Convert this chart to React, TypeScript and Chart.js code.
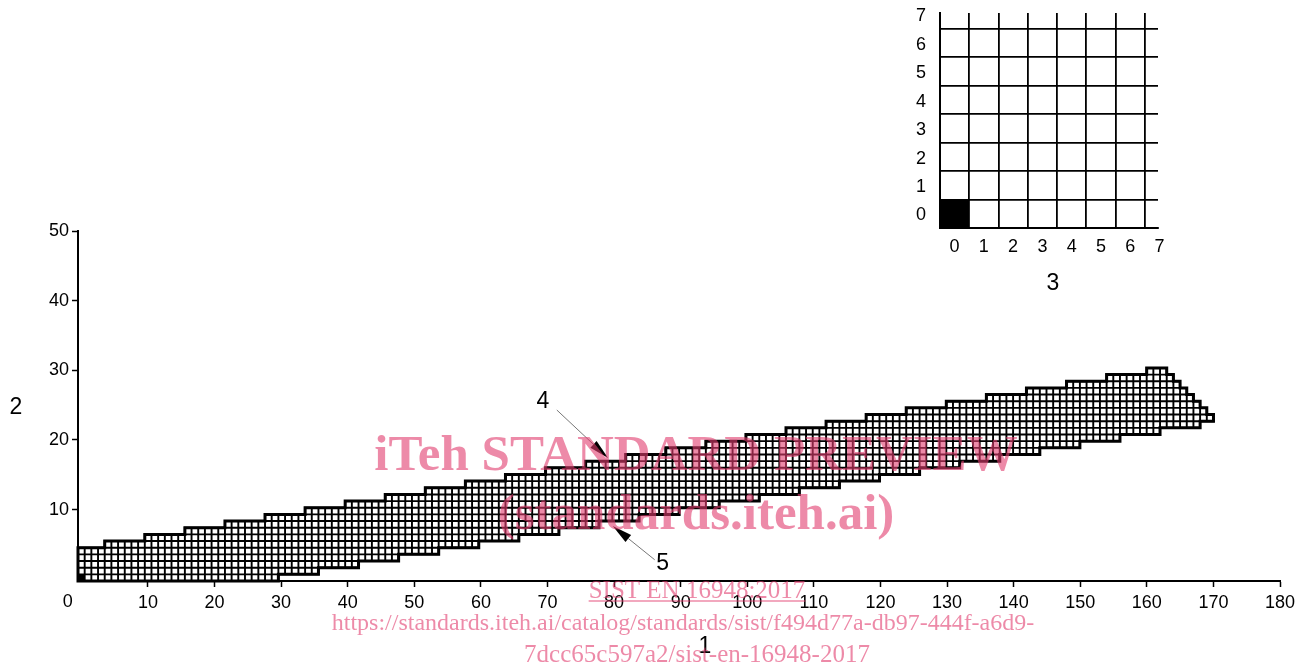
import React, { useEffect, useRef } from 'react';
import { Chart, registerables } from 'chart.js';

Chart.register(...registerables);

// ---------- data ----------
const xTickValues = [0, 10, 20, 30, 40, 50, 60, 70, 80, 90, 100, 110, 120, 130, 140, 150, 160, 170, 180];
const yTickValues = [10, 20, 30, 40, 50];

// upper boundary of the band: from column upperStartCol[k] onward, the top cell row is upperTopRow[k]
const upperStartCol = [0, 4, 10, 16, 22, 28, 34, 40, 46, 52, 58, 64, 70, 76, 82, 88, 94, 100, 106, 112, 118, 124, 130, 136, 142, 148, 154, 160, 163, 164, 165, 166, 167, 168, 169];
const upperTopRow = [4, 5, 6, 7, 8, 9, 10, 11, 12, 13, 14, 15, 16, 17, 18, 19, 20, 21, 22, 23, 24, 25, 26, 27, 28, 29, 30, 31, 30, 29, 28, 27, 26, 25, 24];
// lower boundary of the band: from column lowerStartCol[k] onward, the bottom cell row is lowerBottomRow[k]
const lowerStartCol = [0, 30, 36, 42, 48, 54, 60, 66, 72, 78, 84, 90, 96, 102, 108, 114, 120, 126, 132, 138, 144, 150, 156, 162, 168];
const lowerBottomRow = [0, 1, 2, 3, 4, 5, 6, 7, 8, 9, 10, 11, 12, 13, 14, 15, 16, 17, 18, 19, 20, 21, 22, 23, 24];
const lastColumn = 169;
const mainFilledCells = [[0, 0]];

const insetTickValues = [0, 1, 2, 3, 4, 5, 6, 7];
const insetFilledCells = [[0, 0]];

// callouts: label, label position, leader start, arrow tip (data units)
const callouts = [
  { label: '4', text: [69.3, 25.45], from: [71.4, 24.3], to: [79.1, 17.4] },
  { label: '5', text: [87.3, 2.2], from: [86.1, 2.8], to: [79.8, 7.65] },
];

const watermarkLines = [
  { text: 'iTeh STANDARD PREVIEW', bold: true, size: 51, x: 696, y: 470, underline: false },
  { text: '(standards.iteh.ai)', bold: true, size: 51, x: 696, y: 529, underline: false },
  { text: 'SIST EN 16948:2017', bold: false, size: 25, x: 697, y: 598, underline: true },
  { text: 'https://standards.iteh.ai/catalog/standards/sist/f494d77a-db97-444f-a6d9-', bold: false, size: 24, x: 683, y: 630, underline: false },
  { text: '7dcc65c597a2/sist-en-16948-2017', bold: false, size: 25, x: 697, y: 662, underline: false },
];

// ---------- geometry / style ----------
const CELL_W = 1.003;
const CELL_H = 0.956;
const X0 = -0.5;
const Y0 = -0.25;
const SANS = "'Liberation Sans', Arial, Helvetica, sans-serif";
const SERIF = "'Liberation Serif', 'Times New Roman', serif";
const PINK = 'rgba(225, 60, 110, 0.6)';
const TICK_FONT = 18;

function rowAt(starts: number[], rows: number[], col: number) {
  let r = rows[0];
  for (let k = 0; k < starts.length; k++) if (starts[k] <= col) r = rows[k];
  return r;
}

const noPad = (s: any) => {
  s.paddingTop = 0;
  s.paddingBottom = 0;
  s.paddingLeft = 0;
  s.paddingRight = 0;
};

const bandPlugin = {
  id: 'band',
  afterDatasetsDraw(chart: any) {
    const { ctx, scales, chartArea } = chart;
    const xs = scales.x;
    const ys = scales.y;
    const ex = (i: number) => xs.getPixelForValue(X0 + i * CELL_W);
    const ey = (j: number) => ys.getPixelForValue(Y0 + j * CELL_H);
    ctx.save();
    // cells
    ctx.beginPath();
    for (let c = 0; c <= lastColumn; c++) {
      const b = rowAt(lowerStartCol, lowerBottomRow, c);
      const t = rowAt(upperStartCol, upperTopRow, c);
      for (let r = b; r <= t; r++) {
        const x1 = ex(c), x2 = ex(c + 1), y1 = ey(r + 1), y2 = ey(r);
        ctx.rect(x1, y1, x2 - x1, y2 - y1);
      }
    }
    ctx.fillStyle = '#fff';
    ctx.fill();
    ctx.strokeStyle = '#000';
    ctx.lineWidth = 1.9;
    ctx.stroke();
    ctx.fillStyle = '#000';
    mainFilledCells.forEach(([c, r]) => {
      ctx.fillRect(ex(c), ey(r + 1), ex(c + 1) - ex(c), ey(r) - ey(r + 1));
    });
    // outline
    ctx.beginPath();
    ctx.moveTo(ex(0), ey(rowAt(lowerStartCol, lowerBottomRow, 0)));
    for (let c = 0; c <= lastColumn; c++) {
      const t = rowAt(upperStartCol, upperTopRow, c);
      ctx.lineTo(ex(c), ey(t + 1));
      ctx.lineTo(ex(c + 1), ey(t + 1));
    }
    for (let c = lastColumn; c >= 0; c--) {
      const b = rowAt(lowerStartCol, lowerBottomRow, c);
      ctx.lineTo(ex(c + 1), ey(b));
      ctx.lineTo(ex(c), ey(b));
    }
    ctx.closePath();
    ctx.lineWidth = 3;
    ctx.lineJoin = 'miter';
    ctx.stroke();

    // callouts
    callouts.forEach((co) => {
      const fx = xs.getPixelForValue(co.from[0]), fy = ys.getPixelForValue(co.from[1]);
      const tx = xs.getPixelForValue(co.to[0]), ty = ys.getPixelForValue(co.to[1]);
      const dx = tx - fx, dy = ty - fy;
      const len = Math.hypot(dx, dy);
      const ux = dx / len, uy = dy / len;
      const headL = 20, headW = 4.5;
      const bx = tx - ux * headL, by = ty - uy * headL;
      ctx.beginPath();
      ctx.moveTo(fx, fy);
      ctx.lineTo(bx, by);
      ctx.strokeStyle = '#777';
      ctx.lineWidth = 1;
      ctx.stroke();
      ctx.beginPath();
      ctx.moveTo(tx, ty);
      ctx.lineTo(bx - uy * headW, by + ux * headW);
      ctx.lineTo(bx + uy * headW, by - ux * headW);
      ctx.closePath();
      ctx.fillStyle = '#000';
      ctx.fill();
      ctx.font = `23px ${SANS}`;
      ctx.textAlign = 'center';
      ctx.textBaseline = 'middle';
      ctx.fillText(co.label, xs.getPixelForValue(co.text[0]), ys.getPixelForValue(co.text[1]));
    });

    // origin label and axis titles
    ctx.fillStyle = '#000';
    ctx.font = `${TICK_FONT}px ${SANS}`;
    ctx.textAlign = 'center';
    ctx.textBaseline = 'top';
    ctx.fillText('0', xs.getPixelForValue(0) - 13.5, chartArea.bottom + 12);
    ctx.font = `23px ${SANS}`;
    ctx.textBaseline = 'middle';
    ctx.fillText('1', chartArea.left + 627, chartArea.bottom + 66);
    ctx.fillText('2', chartArea.left - 62, (chartArea.top + chartArea.bottom) / 2 + 2);
    ctx.restore();
  },
  afterDraw(chart: any) {
    const { ctx } = chart;
    ctx.save();
    ctx.fillStyle = PINK;
    ctx.strokeStyle = PINK;
    ctx.textAlign = 'center';
    ctx.textBaseline = 'alphabetic';
    watermarkLines.forEach((w) => {
      ctx.font = `${w.bold ? 'bold ' : ''}${w.size}px ${SERIF}`;
      ctx.fillText(w.text, w.x, w.y);
      if (w.underline) {
        const m = ctx.measureText(w.text).width;
        ctx.beginPath();
        ctx.lineWidth = 1.3;
        ctx.moveTo(w.x - m / 2, w.y + 3);
        ctx.lineTo(w.x + m / 2, w.y + 3);
        ctx.stroke();
      }
    });
    ctx.restore();
  },
};

const insetPlugin = {
  id: 'insetCells',
  afterDatasetsDraw(chart: any) {
    const { ctx, scales, chartArea } = chart;
    const xs = scales.x, ys = scales.y;
    ctx.save();
    ctx.fillStyle = '#000';
    insetFilledCells.forEach(([c, r]) => {
      const x1 = xs.getPixelForValue(c), x2 = xs.getPixelForValue(c + 1);
      const y1 = ys.getPixelForValue(r + 1), y2 = ys.getPixelForValue(r);
      ctx.fillRect(x1, y1, x2 - x1, y2 - y1);
    });
    ctx.font = `23px ${SANS}`;
    ctx.textAlign = 'center';
    ctx.textBaseline = 'middle';
    ctx.fillText('3', chartArea.left + 113, chartArea.bottom + 56);
    ctx.restore();
  },
};

export default function App() {
  const mainRef = useRef<HTMLCanvasElement>(null);
  const insetRef = useRef<HTMLCanvasElement>(null);

  useEffect(() => {
    Chart.defaults.font.family = SANS;
    Chart.defaults.color = '#000';
    const main = new Chart(mainRef.current as HTMLCanvasElement, {
      type: 'scatter',
      data: { datasets: [] },
      options: {
        animation: false,
        responsive: false,
        maintainAspectRatio: false,
        layout: { padding: { left: 0, top: 231, right: 23, bottom: 45 } },
        plugins: { legend: { display: false }, tooltip: { enabled: false } },
        scales: {
          x: {
            type: 'linear',
            min: -0.5,
            max: 180,
            afterBuildTicks: (s: any) => { s.ticks = xTickValues.map((v) => ({ value: v })); },
            afterFit: (s: any) => { s.height = 40; noPad(s); },
            ticks: {
              callback: (v: any) => (v === 0 ? '' : String(v)),
              color: '#000',
              font: { size: TICK_FONT, family: SANS },
              padding: 5,
              maxRotation: 0,
              autoSkip: false,
            },
            grid: {
              drawOnChartArea: false,
              drawTicks: true,
              tickLength: 6,
              tickWidth: 1.5,
              tickColor: (c: any) => (c.tick && c.tick.value === 0 ? 'rgba(0,0,0,0)' : '#000'),
            },
            border: { display: true, color: '#000', width: 2 },
          },
          y: {
            type: 'linear',
            min: -0.25,
            max: 50,
            afterBuildTicks: (s: any) => { s.ticks = yTickValues.map((v) => ({ value: v })); },
            afterFit: (s: any) => { s.width = 78; noPad(s); },
            ticks: { color: '#000', font: { size: TICK_FONT, family: SANS }, padding: 3 },
            grid: { drawOnChartArea: false, drawTicks: true, tickLength: 6, tickWidth: 1.5, tickColor: '#000' },
            border: { display: true, color: '#000', width: 2 },
          },
        },
      } as any,
      plugins: [bandPlugin],
    });

    const inset = new Chart(insetRef.current as HTMLCanvasElement, {
      type: 'scatter',
      data: { datasets: [] },
      options: {
        animation: false,
        responsive: false,
        maintainAspectRatio: false,
        layout: { padding: { left: 0, top: 13, right: 22, bottom: 42 } },
        plugins: { legend: { display: false }, tooltip: { enabled: false } },
        scales: {
          x: {
            type: 'linear',
            min: 0,
            max: 7.45,
            afterBuildTicks: (s: any) => { s.ticks = insetTickValues.map((v) => ({ value: v })); },
            afterFit: (s: any) => { s.height = 30; noPad(s); },
            ticks: { color: '#000', font: { size: TICK_FONT, family: SANS }, padding: 8, labelOffset: 14.6, maxRotation: 0, autoSkip: false },
            grid: { color: '#000', lineWidth: 1.8, drawTicks: false },
            border: { display: true, color: '#000', width: 2 },
          },
          y: {
            type: 'linear',
            min: 0,
            max: 7.55,
            afterBuildTicks: (s: any) => { s.ticks = insetTickValues.map((v) => ({ value: v })); },
            afterFit: (s: any) => { s.width = 60; noPad(s); },
            ticks: { color: '#000', font: { size: TICK_FONT, family: SANS }, padding: 14, labelOffset: -12.5, autoSkip: false },
            grid: { color: '#000', lineWidth: 1.8, drawTicks: false },
            border: { display: true, color: '#000', width: 2 },
          },
        },
      } as any,
      plugins: [insetPlugin],
    });

    return () => {
      main.destroy();
      inset.destroy();
    };
  }, []);

  return (
    <div style={{ position: 'fixed', left: 0, top: 0, width: 1303, height: 666, background: '#fff' }}>
      <canvas ref={mainRef} width={1303} height={666} style={{ position: 'absolute', left: 0, top: 0, width: 1303, height: 666 }} />
      <canvas ref={insetRef} width={300} height={300} style={{ position: 'absolute', left: 880, top: 0, width: 300, height: 300 }} />
    </div>
  );
}
